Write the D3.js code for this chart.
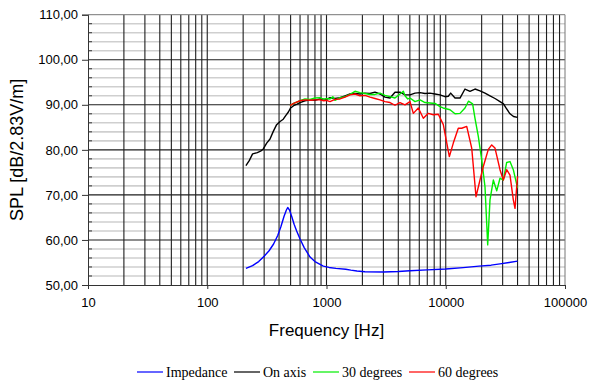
<!DOCTYPE html>
<html>
<head>
<meta charset="utf-8">
<script src="https://cdn.jsdelivr.net/npm/d3@7"></script>
<style>
  html, body { margin: 0; padding: 0; background: #fff; }
  svg { display: block; }
</style>
</head>
<body>
<svg id="chart" width="600" height="388"></svg>
<script>
// ---- data (frequency in Hz, level in dB) ----
const seriesNames = ["Impedance", "On axis", "30 degrees", "60 degrees"];
const seriesColors = ["#0000ff", "#000000", "#00ee00", "#ff0000"];

const impFreq = [211, 240, 270, 300, 330, 360, 390, 415, 440, 460, 473, 490, 511, 535, 562, 600, 650, 728, 800, 883, 940, 1050, 1200, 1450, 1600, 1800, 2100, 3000, 4000, 5000, 7000, 10000, 14000, 19000, 24000, 28500, 34000, 40000];
const impVal  = [53.7, 54.3, 55.2, 56.4, 57.6, 59.1, 61.0, 63.0, 65.2, 66.6, 67.2, 66.6, 65.2, 63.5, 62.0, 60.2, 58.3, 56.2, 55.2, 54.6, 54.2, 53.9, 53.7, 53.5, 53.3, 53.1, 52.95, 52.9, 53.0, 53.15, 53.35, 53.55, 53.85, 54.2, 54.4, 54.7, 55.0, 55.3];

const onFreq = [211, 225, 240, 263, 280, 295, 315, 336, 358, 380, 408, 434, 455, 479, 500, 530, 562, 600, 660, 727, 800, 882, 1000, 1070, 1178, 1298, 1430, 1574, 1734, 1910, 2103, 2316, 2551, 2810, 3094, 3408, 3753, 4134, 4553, 5014, 5523, 6083, 6699, 7378, 8126, 8950, 9856, 10500, 11000, 11956, 13167, 14501, 15971, 17590, 19373, 21336, 23498, 25880, 28503, 30500, 32000, 34574, 37000, 40000];
const onVal  = [76.5, 77.6, 79.1, 79.4, 79.7, 80.2, 81.5, 82.4, 84.1, 85.5, 86.3, 86.8, 87.6, 88.4, 89.3, 89.8, 90.1, 90.5, 90.9, 91.1, 91.0, 91.3, 91.2, 91.6, 91.4, 91.6, 92.0, 92.4, 92.5, 92.4, 92.6, 92.5, 92.8, 92.4, 91.7, 91.5, 92.8, 92.8, 92.2, 92.2, 92.6, 92.7, 92.5, 92.6, 92.4, 92.2, 91.8, 91.9, 92.6, 91.5, 91.5, 93.5, 93.0, 93.5, 93.1, 92.6, 92.0, 91.4, 90.7, 90.2, 89.3, 88.0, 87.4, 87.2];

const d30Freq = [494, 530, 600, 660, 727, 801, 882, 950, 1000, 1070, 1130, 1178, 1298, 1430, 1574, 1734, 1910, 2103, 2316, 2551, 2810, 3094, 3408, 3753, 4134, 4410, 4553, 4800, 5014, 5523, 6083, 6699, 7378, 8126, 8950, 9500, 10855, 11956, 13167, 14501, 15500, 16800, 17590, 18750, 20020, 21336, 22480, 23498, 25060, 26760, 28503, 30380, 32430, 34574, 36860, 40000];
const d30Val  = [89.8, 90.3, 90.9, 91.3, 91.2, 91.5, 91.6, 91.2, 91.4, 91.3, 91.8, 91.0, 91.6, 91.8, 92.3, 93.0, 92.7, 92.5, 92.3, 92.3, 92.6, 92.1, 91.8, 91.5, 92.4, 93.0, 92.0, 91.3, 91.5, 90.7, 91.1, 90.5, 90.4, 90.3, 89.6, 89.3, 88.9, 88.0, 88.1, 89.3, 90.8, 90.2, 87.0, 83.0, 77.8, 71.8, 58.9, 68.9, 73.3, 70.9, 73.7, 73.3, 77.2, 77.4, 75.6, 71.5];

const d60Freq = [494, 530, 600, 660, 727, 801, 882, 950, 1000, 1070, 1178, 1298, 1430, 1574, 1734, 1910, 2103, 2316, 2551, 2810, 3094, 3408, 3753, 4134, 4553, 5014, 5348, 5890, 6488, 7145, 7870, 8666, 9540, 10720, 11570, 12740, 13610, 14990, 16510, 17940, 19373, 20650, 22750, 24280, 25880, 28503, 30380, 32430, 34574, 36860, 38080, 40000];
const d60Val  = [89.8, 90.3, 90.9, 91.1, 91.0, 91.1, 91.1, 90.9, 91.0, 90.7, 91.2, 91.3, 91.7, 92.2, 92.4, 92.0, 92.1, 91.7, 91.4, 91.1, 90.7, 90.5, 89.9, 90.5, 90.0, 90.7, 88.1, 89.3, 87.0, 88.1, 87.8, 87.9, 85.6, 78.5, 81.5, 84.8, 84.8, 85.2, 80.4, 69.6, 73.3, 76.3, 80.1, 81.1, 80.4, 75.6, 73.3, 75.6, 74.4, 68.9, 67.0, 74.1];

const xTicks = [10, 100, 1000, 10000, 100000];
const yTicks = [50, 60, 70, 80, 90, 100, 110];
const xLabel = "Frequency [Hz]";
const yLabel = "SPL [dB/2.83V/m]";

// ---- drawing ----
const svg = d3.select("#chart");
const x = d3.scaleLog().domain([10, 100000]).range([88, 565]);
const y = d3.scaleLinear().domain([50, 110]).range([285, 14.7]);
const X0 = x.range()[0], X1 = x.range()[1];
const Y0 = y.range()[0], Y1 = y.range()[1];

const commaFmt = v => d3.format(".2f")(v).replace(".", ",");

// minor horizontal grid (every 2 dB)
const minorY = d3.range(52, 110, 2).filter(v => v % 10 !== 0);
svg.append("g").selectAll("line").data(minorY).join("line")
  .attr("x1", X0).attr("x2", X1)
  .attr("y1", d => y(d)).attr("y2", d => y(d))
  .attr("stroke", "#cfcfcf").attr("stroke-width", 1.6);

// vertical grid: every log tick
const vLines = [];
for (let dec = 10; dec < 100000; dec *= 10) for (let m = 1; m < 10; m++) vLines.push(dec * m);
svg.append("g").selectAll("line").data(vLines.filter(v => v > 10)).join("line")
  .attr("x1", d => x(d)).attr("x2", d => x(d))
  .attr("y1", Y0).attr("y2", Y1)
  .attr("stroke", "#1e1e1e").attr("stroke-width", 1.1);

// major horizontal grid
svg.append("g").selectAll("line").data(yTicks.filter(v => v > 50 && v < 110)).join("line")
  .attr("x1", X0).attr("x2", X1)
  .attr("y1", d => y(d)).attr("y2", d => y(d))
  .attr("stroke", "#1e1e1e").attr("stroke-width", 1.1);

// frame top & right (gray)
svg.append("line").attr("x1", X0).attr("x2", X1).attr("y1", Y1).attr("y2", Y1)
  .attr("stroke", "#777").attr("stroke-width", 1);
svg.append("line").attr("x1", X1).attr("x2", X1).attr("y1", Y1).attr("y2", Y0)
  .attr("stroke", "#777").attr("stroke-width", 1);

// minor y ticks (inside)
svg.append("g").selectAll("line").data(minorY).join("line")
  .attr("x1", X0).attr("x2", X0 + 4)
  .attr("y1", d => y(d)).attr("y2", d => y(d))
  .attr("stroke", "#333").attr("stroke-width", 1);

// y axis
const yAxis = svg.append("g").attr("transform", `translate(${X0},0)`)
  .call(d3.axisLeft(y).tickValues(yTicks).tickFormat(commaFmt).tickSize(6).tickPadding(4));
yAxis.select(".domain").attr("stroke", "#333");
yAxis.selectAll(".tick line").attr("stroke", "#333");
yAxis.selectAll("text").attr("font-family", "Liberation Sans, Arial, sans-serif")
  .attr("font-size", 13).attr("fill", "#000");

// x axis
const xAxis = svg.append("g").attr("transform", `translate(0,${Y0})`)
  .call(d3.axisBottom(x).tickValues(xTicks).tickFormat(d3.format("d")).tickSize(4).tickPadding(9));
xAxis.select(".domain").attr("stroke", "#333");
xAxis.selectAll(".tick line").attr("stroke", "#333");
xAxis.selectAll("text").attr("font-family", "Liberation Sans, Arial, sans-serif")
  .attr("font-size", 13).attr("fill", "#000");

// axis titles
svg.append("text").attr("x", (X0 + X1) / 2).attr("y", 336)
  .attr("text-anchor", "middle")
  .attr("font-family", "Liberation Sans, Arial, sans-serif").attr("font-size", 17)
  .text(xLabel);
svg.append("text").attr("transform", `translate(23,${(Y0 + Y1) / 2}) rotate(-90)`)
  .attr("text-anchor", "middle")
  .attr("font-family", "Liberation Sans, Arial, sans-serif").attr("font-size", 18)
  .text(yLabel);

// curves
const series = [
  { f: impFreq, v: impVal },
  { f: onFreq, v: onVal },
  { f: d30Freq, v: d30Val },
  { f: d60Freq, v: d60Val }
];
const line = d3.line().x(d => x(d[0])).y(d => y(d[1]));
const curves = svg.append("g");
series.forEach((s, i) => {
  curves.append("path")
    .datum(s.f.map((f, k) => [f, s.v[k]]))
    .attr("d", line)
    .attr("fill", "none")
    .attr("stroke", seriesColors[i])
    .attr("stroke-width", 1.4)
    .attr("stroke-linejoin", "round");
});

// legend
const legendX = [137, 234, 313, 409];
const lg = svg.append("g");
seriesNames.forEach((name, i) => {
  const g = lg.append("g").attr("transform", `translate(${legendX[i]},0)`);
  g.append("line").attr("x1", 0).attr("x2", 26).attr("y1", 372).attr("y2", 372)
    .attr("stroke", seriesColors[i]).attr("stroke-width", 1.2);
  g.append("text").attr("x", 29).attr("y", 376.5)
    .attr("font-family", "Liberation Serif, Times New Roman, serif").attr("font-size", 14)
    .attr("fill", "#000")
    .text(name);
});
</script>
</body>
</html>
